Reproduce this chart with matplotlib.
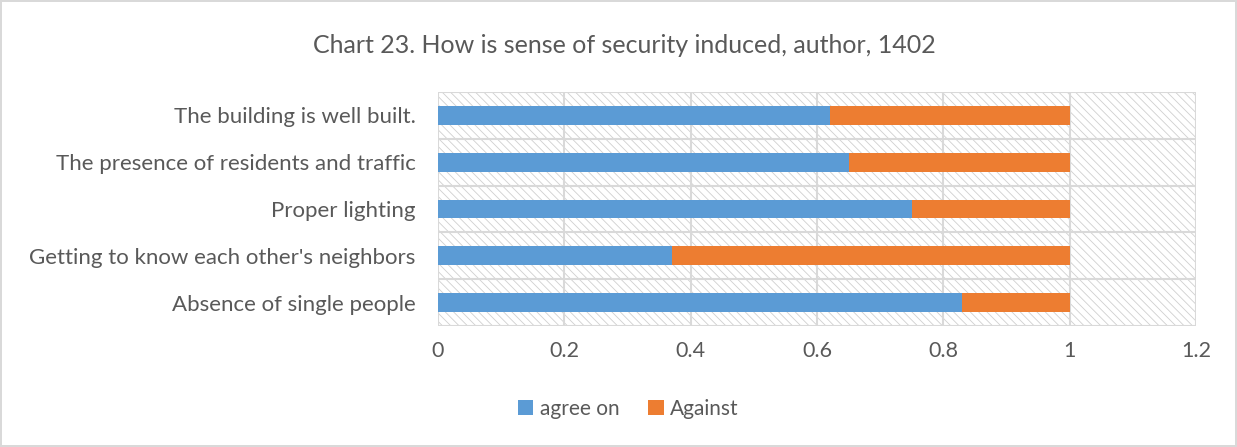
import matplotlib
matplotlib.use("Agg")
import matplotlib.pyplot as plt
from matplotlib.patches import Rectangle

categories = [
    "Absence of single people",
    "Getting to know each other's neighbors",
    "Proper lighting",
    "The presence of residents and traffic",
    "The building is well built.",
]
agree_on = [0.83, 0.37, 0.75, 0.65, 0.62]
against = [0.17, 0.63, 0.25, 0.35, 0.38]
x_ticks = [0, 0.2, 0.4, 0.6, 0.8, 1, 1.2]
x_tick_labels = ["0", "0.2", "0.4", "0.6", "0.8", "1", "1.2"]

TEXT = "#595959"
GRID = "#d9d9d9"
BLUE = "#5b9bd5"
ORANGE = "#ed7d31"

plt.rcParams["font.family"] = ["Lato", "DejaVu Sans"]
plt.rcParams["hatch.linewidth"] = 0.6
plt.rcParams["hatch.color"] = "#cfcfcf"

fig = plt.figure(figsize=(12.37, 4.47), dpi=100)
fig.patch.set_facecolor("white")
fig.patch.set_edgecolor(GRID)
fig.patch.set_linewidth(1.5)

ax = fig.add_axes([0.3541, 0.2707, 0.6128, 0.5235])
ax.set_xlim(0, 1.2)
ax.set_ylim(-0.5, len(categories) - 0.5)

# hatched plot-area background
ax.add_patch(Rectangle((0, 0), 1, 1, transform=ax.transAxes, facecolor="white",
                       edgecolor="#cfcfcf", hatch="\\\\\\\\", linewidth=0, zorder=0))

# gridlines: vertical at ticks, horizontal between categories
for xv in x_ticks:
    ax.axvline(xv, color=GRID, linewidth=1.5, zorder=1)
for k in range(len(categories) + 1):
    ax.axhline(k - 0.5, color=GRID, linewidth=1.5, zorder=1)

ys = list(range(len(categories)))
ax.barh(ys, agree_on, height=0.4, color=BLUE, label="agree on", zorder=3)
ax.barh(ys, against, left=agree_on, height=0.4, color=ORANGE, label="Against", zorder=3)

ax.set_yticks(ys)
ax.set_yticklabels(categories, fontsize=16, color=TEXT)
ax.set_xticks(x_ticks)
ax.set_xticklabels(x_tick_labels, fontsize=15.5, color=TEXT)
ax.tick_params(axis="both", length=0)
ax.tick_params(axis="y", pad=16)
ax.tick_params(axis="x", pad=11)
for s in ax.spines.values():
    s.set_visible(False)

fig.text(0.505, 0.899, "Chart 23. How is sense of security induced, author, 1402",
         ha="center", va="center", fontsize=18, color=TEXT)

handles, labels = ax.get_legend_handles_labels()
fig.legend(handles, labels, loc="center", bbox_to_anchor=(0.508, 0.085), ncol=2,
           frameon=False, fontsize=15, labelcolor=TEXT, handlelength=0.75,
           handleheight=0.75, handletextpad=0.3, columnspacing=1.4)

fig.savefig("out.png", dpi=100, facecolor=fig.get_facecolor(), edgecolor=fig.get_edgecolor())
